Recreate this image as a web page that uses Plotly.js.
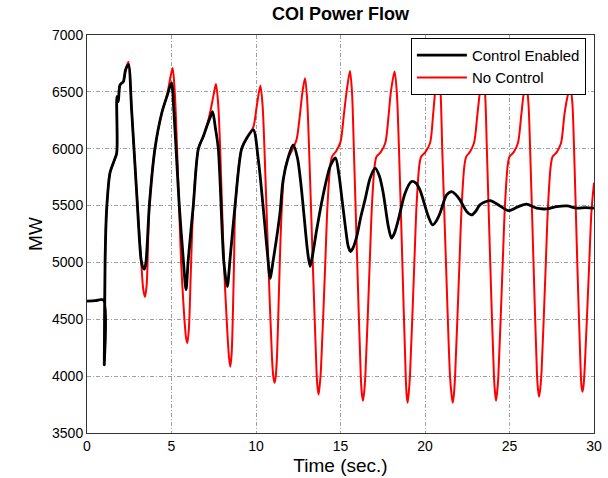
<!DOCTYPE html>
<html>
<head>
<meta charset="utf-8">
<script src="https://cdn.plot.ly/plotly-3.0.1.min.js"></script>
<style>html,body{margin:0;padding:0;background:#fff;}#chart{width:608px;height:478px;}</style>
</head>
<body>
<div id="chart"></div>
<script>
// Control Enabled (black)
const timeControl = [0,0.5,0.97,1.02,1.07,1.16,1.36,1.62,1.76,1.77,1.85,1.95,2.15,2.28,2.45,2.64,2.94,3.2,3.3,3.39,3.48,3.69,4.02,4.42,4.75,5.0,5.14,5.27,5.46,5.7,5.86,5.99,6.29,6.59,6.88,7.08,7.3,7.43,7.6,7.77,8.1,8.3,8.46,8.76,9.15,9.45,9.84,10.14,10.53,10.73,10.83,11.03,11.42,11.6,11.9,12.2,12.45,12.65,12.85,13.05,13.2,13.33,13.59,13.85,14.08,14.4,14.7,14.9,15.07,15.3,15.46,15.6,15.75,15.96,16.2,16.45,16.75,17.05,17.3,17.53,17.83,18.02,18.2,18.42,18.82,19.2,19.45,19.7,20.2,20.45,20.65,20.89,21.28,21.58,21.8,22.07,22.47,22.76,23.0,23.25,23.85,24.44,24.93,25.52,26.0,26.6,27.2,27.8,28.4,28.98,29.5,30];
const mwControl = [4660,4664,4670,4100,5010,5460,5787,5900,5963,6458,6414,6560,6590,6692,6740,6341,5609,5023,4960,4941,4990,5500,6000,6312,6470,6578,6330,6000,5500,5023,4760,5023,5500,6000,6107,6194,6280,6326,6180,6000,5000,4788,5023,5500,6000,6092,6165,5900,5315,4990,4860,5030,5435,5720,5920,6033,5920,5700,5400,5100,4965,5050,5287,5500,5667,5850,5919,5780,5579,5300,5140,5096,5130,5228,5400,5550,5740,5830,5760,5609,5316,5214,5260,5374,5609,5711,5700,5638,5403,5330,5360,5433,5594,5623,5600,5550,5447,5418,5450,5506,5544,5497,5456,5491,5512,5477,5471,5491,5497,5477,5482,5477];

// No Control (red)
const timeNoControl = [0,0.5,0.97,1.02,1.07,1.16,1.36,1.62,1.76,1.77,1.85,1.95,2.15,2.28,2.45,2.64,2.94,3.2,3.33,3.43,3.53,3.69,4.02,4.42,4.75,4.95,5.07,5.2,5.33,5.45,5.57,5.72,5.86,5.94,6.03,6.14,6.29,6.59,6.88,7.08,7.3,7.5,7.63,7.76,7.88,8.1,8.3,8.4,8.48,8.56,8.64,8.7,8.78,9.15,9.45,9.84,10.05,10.26,10.39,10.5,10.73,10.95,11.03,11.1,11.17,11.25,11.35,11.45,11.55,11.65,11.85,12.15,12.4,12.6,12.75,12.9,13.02,13.14,13.36,13.58,13.63,13.7,13.77,13.84,14.1,14.23,14.39,14.5,14.75,15.0,15.2,15.36,15.56,15.68,15.79,15.99,16.2,16.26,16.33,16.4,16.47,16.73,16.86,17.02,17.13,17.38,17.65,17.85,17.98,18.2,18.33,18.46,18.66,18.86,18.91,18.97,19.03,19.11,19.37,19.5,19.66,19.77,20.02,20.3,20.48,20.6,20.8,20.92,21.02,21.24,21.48,21.57,21.64,21.71,21.78,22.04,22.17,22.33,22.44,22.65,22.9,23.1,23.25,23.42,23.55,23.66,23.86,24.08,24.14,24.2,24.27,24.34,24.6,24.73,24.89,25.0,25.25,25.5,25.7,25.84,26.0,26.12,26.22,26.42,26.63,26.69,26.75,26.82,26.9,27.15,27.28,27.44,27.55,27.8,28.05,28.25,28.42,28.6,28.72,28.82,29.01,29.2,29.26,29.32,29.39,29.46,29.72,29.85,30.0];
const mwNoControl = [4660,4664,4670,4100,5010,5460,5787,5900,5963,6458,6414,6560,6590,6692,6765,6341,5609,5023,4760,4697,4800,5500,6000,6312,6480,6640,6710,6480,6000,5500,5000,4600,4340,4292,4420,4900,5500,6000,6107,6194,6330,6480,6570,6400,6000,5000,4400,4170,4083,4200,4600,5000,5500,6000,6092,6190,6380,6555,6380,6000,5000,4150,3990,3942,4000,4200,4700,5200,5550,5760,5900,5990,6080,6300,6500,6620,6450,6000,5000,4050,3920,3838,3920,4050,5000,5500,5850,5930,5980,6060,6300,6500,6684,6500,6000,5000,4000,3850,3784,3860,4000,5000,5500,5850,5930,5970,6050,6300,6500,6680,6500,6000,5000,4000,3840,3766,3840,4000,5000,5500,5850,5930,5970,6050,6300,6500,6700,6500,6000,5000,4000,3840,3766,3840,4000,5000,5500,5850,5930,5970,6050,6300,6500,6660,6500,6000,5000,4000,3860,3784,3860,4000,5000,5500,5850,5930,5970,6050,6300,6480,6560,6400,6000,5000,4000,3880,3819,3890,4050,5000,5500,5850,5930,5970,6050,6300,6450,6545,6400,6000,5000,4100,3910,3863,3930,4100,5000,5450,5700];

const xTicks = [0,5,10,15,20,25,30];
const yTicks = [3500,4000,4500,5000,5500,6000,6500,7000];
const seriesNames = ["Control Enabled","No Control"];

const font = 'Arial, "Liberation Sans", Helvetica, sans-serif';
const gridStyle = {showgrid:true, gridcolor:'#a0a0a0', gridwidth:1, griddash:'4px,2px,1px,2px',
  showline:true, mirror:true, linecolor:'#333', linewidth:1, zeroline:false, ticks:'',
  tickfont:{family:font, size:14, color:'#000'}};

const traces = [
  {x:timeNoControl, y:mwNoControl, name:seriesNames[1], type:'scatter', mode:'lines',
   line:{color:'#ff0000', width:2, shape:'spline', smoothing:0.8}, legendrank:2},
  {x:timeControl, y:mwControl, name:seriesNames[0], type:'scatter', mode:'lines',
   line:{color:'#000000', width:2.8, shape:'spline', smoothing:0.8}, legendrank:1}
];

const layout = {
  width:608, height:478,
  margin:{l:87, r:14, t:35, b:45},
  paper_bgcolor:'#fff', plot_bgcolor:'#fff',
  font:{family:font, color:'#000'},
  title:{text:'<b>COI Power Flow</b>', font:{family:font, size:18, color:'#000'},
    x:0.5, xref:'paper', y:1-14/478, yref:'container', yanchor:'middle'},
  xaxis:Object.assign({}, gridStyle, {range:[0,30], tickvals:xTicks, ticktext:xTicks.map(String),
    title:{text:'Time (sec.)', font:{family:font, size:19, color:'#000'}, standoff:5}}),
  yaxis:Object.assign({}, gridStyle, {range:[3500,7000], tickvals:yTicks, ticktext:yTicks.map(String),
    title:{text:'MW', font:{family:font, size:19, color:'#000'}, standoff:4}}),
  showlegend:true,
  legend:{x:0.984, xanchor:'right', y:0.993, yanchor:'top', bgcolor:'#fff',
    bordercolor:'#000', borderwidth:1, font:{family:font, size:15, color:'#000'},
    itemwidth:50, tracegroupgap:0}
};

Plotly.newPlot('chart', traces, layout, {displayModeBar:false, staticPlot:true});
</script>
</body>
</html>
